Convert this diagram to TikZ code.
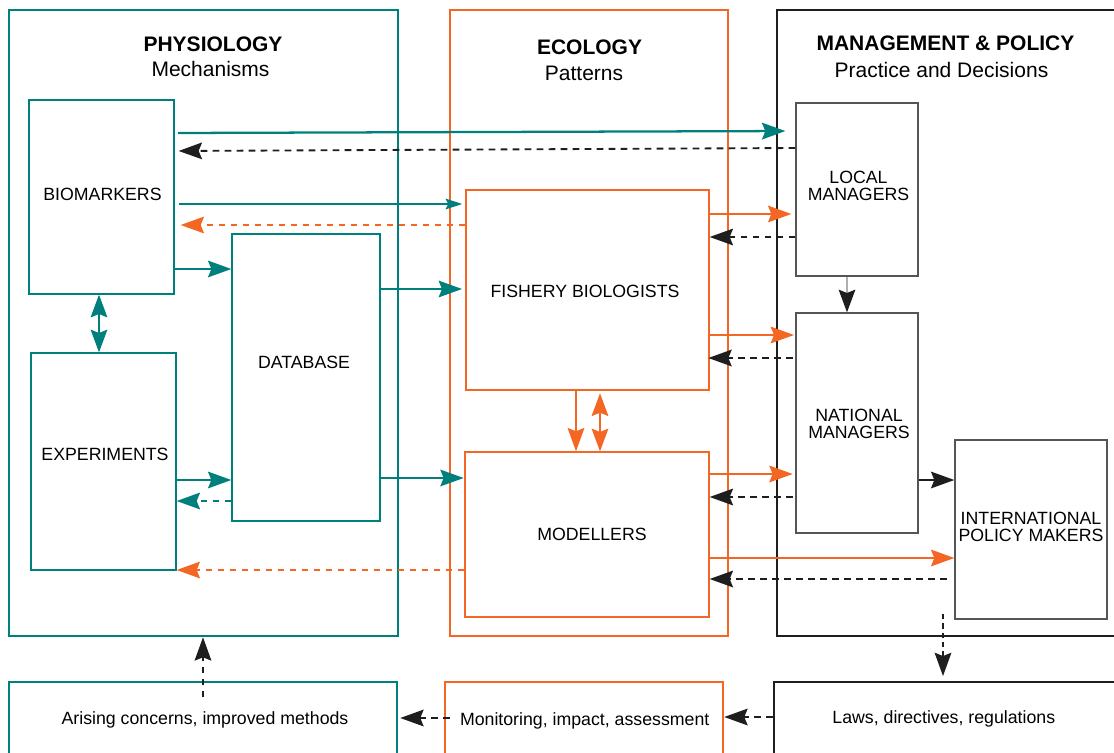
\documentclass[tikz,border=0pt]{standalone}
\usepackage{fontspec}
\setmainfont{Liberation Sans}
\usetikzlibrary{arrows.meta,fit}
\definecolor{tl}{RGB}{0,128,124}
\definecolor{og}{RGB}{243,102,35}
\definecolor{dk}{RGB}{30,30,30}
\definecolor{gy}{RGB}{85,85,85}
\definecolor{lg}{RGB}{175,175,175}
\tikzset{
 outerbox/.style={draw, line width=1.9pt, inner sep=0pt},
 innerbox/.style={draw, line width=1pt, inner sep=0pt},
 lbl/.style={font=\fontsize{13.3}{12.5}\selectfont, align=center, inner sep=0pt, text=black},
 ttl/.style={font=\fontsize{15.75}{18}\selectfont\bfseries, inner sep=0pt, anchor=base},
 subttl/.style={font=\fontsize{15.75}{18}\selectfont, inner sep=0pt, anchor=base},
 big/.style={-{Stealth[length=17.5pt,width=12.5pt,inset=2.5pt]}},
 smallhead/.style={-{Stealth[length=12.5pt,width=8pt,inset=2pt]}},
 dbl/.style={{Stealth[length=17pt,width=12.5pt,inset=2.5pt]}-{Stealth[length=17pt,width=12.5pt,inset=2.5pt]}},
 conn/.style={line width=1.3pt},
 dsh/.style={line width=1.4pt, dash pattern=on 5pt off 4pt},
}
\begin{document}
\begin{tikzpicture}[x=0.75pt,y=-0.75pt]
\useasboundingbox (0,0) rectangle (1114,753);
\clip (0,0) rectangle (1114,753);
\fill[white] (0,0) rectangle (1114,753);

% outer panels
\node[outerbox, draw=tl, fit={(9,10)(398,636)}] (phys) {};
\node[outerbox, draw=og, fit={(450,10)(728,636)}] (eco) {};
\node[outerbox, draw=dk, fit={(777,10)(1130,636)}] (mgmt) {};

% titles
\node[ttl] (physT) at (213,51) {PHYSIOLOGY};
\node[subttl] (physS) at (210.5,76) {Mechanisms};
\node[ttl] (ecoT) at (589.5,54.3) {ECOLOGY};
\node[subttl] (ecoS) at (584,80) {Patterns};
\node[ttl] (mgmtT) at (945.5,50) {MANAGEMENT \& POLICY};
\node[subttl] (mgmtS) at (941.5,77) {Practice and Decisions};

% inner boxes
\node[innerbox, draw=tl, fit={(29,100)(174,294)}] (bio) {};
\node[innerbox, draw=tl, fit={(31,353)(176,570)}] (exp) {};
\node[innerbox, draw=tl, fit={(232,234)(380,521)}] (db) {};
\node[innerbox, draw=og, fit={(466,190)(709,390)}] (fish) {};
\node[innerbox, draw=og, fit={(465,452)(709,617)}] (mod) {};
\node[innerbox, draw=gy, fit={(796,103)(918,276)}] (loc) {};
\node[innerbox, draw=gy, fit={(796,313)(918,533)}] (nat) {};
\node[innerbox, draw=gy, fit={(955,440)(1107,619)}] (intl) {};

% bottom boxes
\node[outerbox, draw=tl, fit={(9,682)(397,790)}] (aris) {};
\node[outerbox, draw=og, fit={(445,682)(723,790)}] (moni) {};
\node[outerbox, draw=dk, fit={(774,682)(1130,790)}] (laws) {};

% labels
\node[lbl, anchor=base] (bioL) at (102.5,200) {BIOMARKERS};
\node[lbl, anchor=base] (expL) at (105,460) {EXPERIMENTS};
\node[lbl, anchor=base] (dbL) at (304,368) {DATABASE};
\node[lbl, anchor=base] (fishL) at (585,297.7) {FISHERY BIOLOGISTS};
\node[lbl, anchor=base] (modL) at (592,540.7) {MODELLERS};
\node[lbl] (locL) at (858.5,186) {LOCAL\\MANAGERS};
\node[lbl] (natL) at (859,424) {NATIONAL\\MANAGERS};
\node[lbl] (intlL) at (1031,526.7) {INTERNATIONAL\\POLICY MAKERS};
\node[lbl, anchor=base] (arisL) at (205,724.3) {Arising concerns, improved methods};
\node[lbl, anchor=base] (moniL) at (584.7,725) {Monitoring, impact, assessment};
\node[lbl, anchor=base] (lawsL) at (943.8,723.3) {Laws, directives, regulations};

% physiology connectors
\draw[tl, line width=1.7pt, big, shorten <=2.5pt, shorten >=7.5pt] (bio.east |- 0,133) -- (loc.west |- 0,131);
\draw[dk, dsh, big, shorten >=3pt] (loc.west |- 0,148) -- (bio.east |- 0,151);
\draw[tl, line width=1pt, smallhead, shorten <=3.5pt, shorten >=2.3pt] (bio.east |- 0,204) -- (fish.west |- 0,204);
\draw[og, dsh, line width=1.1pt, big, shorten >=4.5pt] (fish.west |- 0,225) -- (bio.east |- 0,225);
\draw[tl, conn, big] (bio.east |- 0,269) -- (db.west |- 0,269);
\draw[tl, conn, dbl] (bio.south -| 99,0) -- (exp.north -| 99,0);
\draw[tl, conn, big, shorten >=2.5pt] (db.east |- 0,289) -- (fish.west |- 0,289);
\draw[tl, conn, big] (exp.east |- 0,480) -- (db.west |- 0,480);
\draw[tl, dsh, big] (db.west |- 0,501) -- (exp.east |- 0,501);
\draw[tl, conn, big, shorten >=0.5pt] (db.east |- 0,478) -- (mod.west |- 0,478);
\draw[og, dsh, line width=1.1pt, big] (mod.west |- 0,570) -- (exp.east |- 0,570);

% ecology connectors
\draw[og, conn, big] (fish.south -| 576,0) -- (mod.north -| 576,0);
\draw[og, conn, dbl, shorten <=2pt] (fish.south -| 600,0) -- (mod.north -| 600,0);
\draw[og, conn, big, shorten >=3pt] (fish.east |- 0,214) -- (loc.west |- 0,214);
\draw[dk, dsh, big] (loc.west |- 0,237) -- (fish.east |- 0,237);
\draw[og, conn, big, shorten >=1pt] (fish.east |- 0,335) -- (nat.west |- 0,335);
\draw[dk, dsh, big, shorten <=2pt, shorten >=-1pt] (nat.west |- 0,358) -- (fish.east |- 0,358);
\draw[og, conn, big, shorten >=2pt] (mod.east |- 0,474) -- (nat.west |- 0,474);
\draw[dk, dsh, big, shorten <=2pt] (nat.west |- 0,497) -- (mod.east |- 0,497);
\draw[og, conn, big] (mod.east |- 0,558) -- (intl.west |- 0,558);
\draw[dk, dsh, big, shorten <=5.5pt] (intl.west |- 0,579) -- (mod.east |- 0,579);

% management connectors
\draw[dk, conn, big] (nat.east |- 0,480) -- (intl.west |- 0,480);
\draw[lg, line width=1pt, -{Stealth[length=17pt,width=12.5pt,inset=2.5pt,color=dk]}] (loc.south -| 847,0) -- (nat.north -| 847,0);
\coordinate (lawsIn) at (943,614);
\draw[dk, line width=1.3pt, dash pattern=on 4pt off 3pt, big, shorten >=3.5pt] (lawsIn) -- (laws.north -| 943,0);

% bottom connectors
\draw[dk, dsh, big] (laws.west |- 0,717) -- (moni.east |- 0,717);
\draw[dk, dsh, big, shorten <=-4.5pt, shorten >=1.5pt] (moni.west |- 0,718) -- (aris.east |- 0,718);
\draw[dk, dsh, big, shorten <=-12.5pt] (aris.north -| 203,0) -- (phys.south -| 203,0);
\end{tikzpicture}
\end{document}
